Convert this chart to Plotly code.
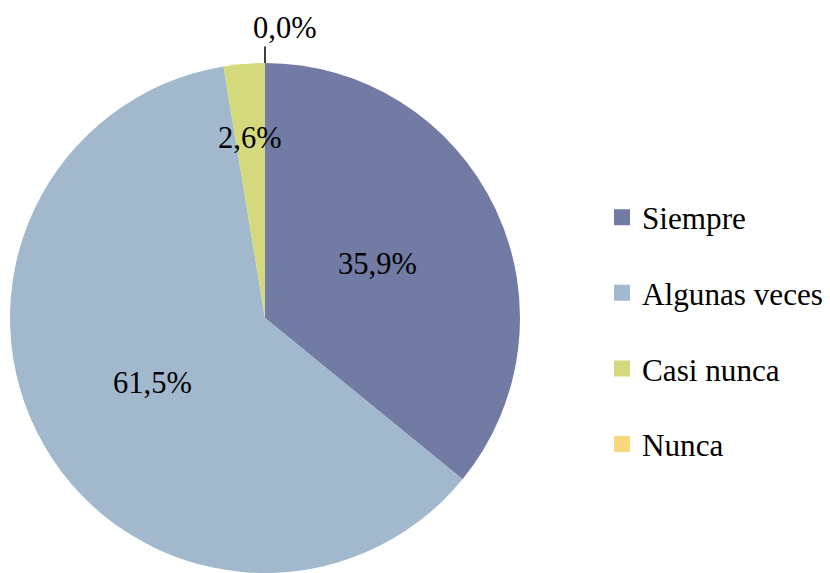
import math
import plotly.graph_objects as go

categories = ["Siempre", "Algunas veces", "Casi nunca", "Nunca"]
percent_values = [35.9, 61.5, 2.6, 0.0]
colors = ["#717BA3", "#A1B8CD", "#D4DA7B", "#F9D77C"]

FONT = "Liberation Serif"
FS = 30.5
FS_LEG = 31.2

W, H = 830, 573
ml, mr, mt, mb = 10, 0, 63, 0
pw, ph = W - ml - mr, H - mt - mb
radius_px = ph / 2
dom_x = [0, 2 * radius_px / pw]

# radial position (fraction of radius) of each inside label
label_r = [0.49, 0.51, 0.71, 1.0]

def fmt(v):
    return f"{v:.1f}".replace(".", ",") + "%"

labels_txt = [fmt(v) for v in percent_values]

fig = go.Figure()
fig.add_trace(go.Pie(
    labels=categories,
    values=percent_values,
    textinfo="none",
    sort=False,
    direction="clockwise",
    rotation=0,
    marker=dict(colors=colors, line=dict(width=0)),
    domain=dict(x=dom_x, y=[0, 1]),
    showlegend=False,
    hoverinfo="label+percent",
))

for i, (c, col) in enumerate(zip(categories, colors)):
    fig.add_trace(go.Scatter(
        x=[None], y=[None], mode="markers", name=c,
        marker=dict(symbol="square", size=16, color=col),
        legendgroup=f"g{i}", showlegend=True,
    ))

total = sum(percent_values)
cx_px = ml + radius_px
cy_px = mt + radius_px

def to_paper(px, py):
    return (px - ml) / pw, 1 - (py - mt) / ph

for i, v in enumerate(percent_values):
    start = sum(percent_values[:i]) / total
    if v == 0:
        th = 2 * math.pi * start
        ex = cx_px + radius_px * math.sin(th)
        ey = cy_px - radius_px * math.cos(th)
        x, y = to_paper(ex, ey)
        # leader line
        fig.add_annotation(
            x=x, y=y, xref="paper", yref="paper", text="",
            showarrow=True, arrowhead=0, arrowwidth=1.5,
            arrowcolor="black", ax=0, ay=-18,
        )
        # label, placed just above the leader line, starting slightly left of it
        fig.add_annotation(
            x=x, y=y, xref="paper", yref="paper", text=labels_txt[i],
            showarrow=False, xanchor="left", yanchor="bottom",
            xshift=-14, yshift=16,
            font=dict(family=FONT, size=FS, color="black"),
        )
    else:
        mid = start + v / total / 2
        th = 2 * math.pi * mid
        r = radius_px * label_r[i]
        x, y = to_paper(cx_px + r * math.sin(th), cy_px - r * math.cos(th))
        fig.add_annotation(
            x=x, y=y, xref="paper", yref="paper", text=labels_txt[i],
            showarrow=False, xanchor="center", yanchor="middle",
            font=dict(family=FONT, size=FS, color="black"),
        )

fig.update_layout(
    width=W, height=H,
    margin=dict(l=ml, r=mr, t=mt, b=mb),
    paper_bgcolor="white", plot_bgcolor="white",
    xaxis=dict(visible=False), yaxis=dict(visible=False),
    legend=dict(
        x=(602 - ml) / pw, xanchor="left", y=(H - mb - 331) / ph, yanchor="middle",
        font=dict(family=FONT, size=FS_LEG, color="black"),
        tracegroupgap=32, bgcolor="rgba(0,0,0,0)",
    ),
)

fig.write_html("out.html", config={"displayModeBar": False},
               post_script="document.body.style.margin='0';")
